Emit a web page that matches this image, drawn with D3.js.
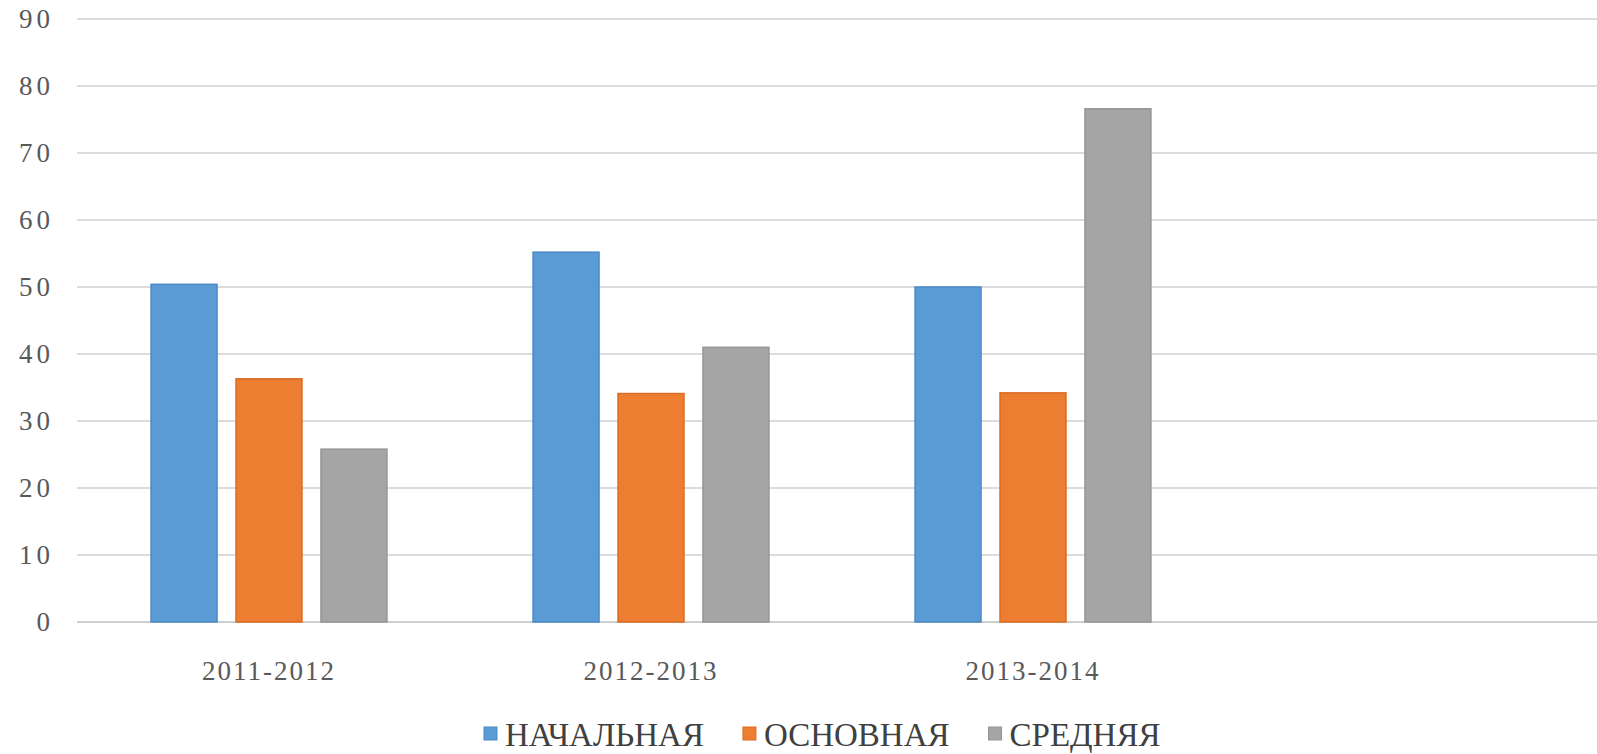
<!DOCTYPE html>
<html>
<head>
<meta charset="utf-8">
<script src="https://cdn.jsdelivr.net/npm/d3@7"></script>
<style>
  body { margin: 0; background: #fff; }
  svg { display: block; }
  text { font-family: "Liberation Serif", "DejaVu Serif", "Times New Roman", serif; }
</style>
</head>
<body>
<div id="chart"></div>
<script>
// data
const years = ['2011-2012', '2012-2013', '2013-2014', ''];
const seriesNames = ['НАЧАЛЬНАЯ', 'ОСНОВНАЯ', 'СРЕДНЯЯ'];
const nachalnaya = [50.4, 55.2, 50.0, null];
const osnovnaya = [36.3, 34.1, 34.2, null];
const srednyaya = [25.8, 41.0, 76.6, null];
const yTicks = [0, 10, 20, 30, 40, 50, 60, 70, 80, 90];
const colors = ['#5B9BD5', '#ED7D31', '#A5A5A5'];
const strokes = ['#4A89C6', '#D96C22', '#959595'];

const width = 1597, height = 754;
const values = [nachalnaya, osnovnaya, srednyaya];

const svg = d3.select('#chart').append('svg')
  .attr('width', width)
  .attr('height', height);

const y = d3.scaleLinear().domain([0, 90]).range([622, 19]);
const x0 = d3.scaleBand().domain(years).range([78, 78 + 4 * 382]);
const x1 = d3.scaleBand().domain(seriesNames)
  .range([0, x0.bandwidth()])
  .paddingInner(0.2235)
  .paddingOuter(0.86);

// gridlines
svg.append('g')
  .selectAll('line')
  .data(yTicks)
  .join('line')
  .attr('x1', 77)
  .attr('x2', width)
  .attr('y1', d => y(d))
  .attr('y2', d => y(d))
  .attr('stroke', d => d === 0 ? '#BFBFBF' : '#D0D0D0')
  .attr('stroke-width', 1.5);

// y labels
svg.append('g')
  .selectAll('text')
  .data(yTicks)
  .join('text')
  .attr('x', 54)
  .attr('y', d => y(d) + 3)
  .attr('text-anchor', 'end')
  .attr('dominant-baseline', 'middle')
  .attr('font-size', 27)
  .attr('letter-spacing', 4)
  .attr('fill', '#595959')
  .text(d => d);

// bars
const groups = svg.append('g')
  .selectAll('g')
  .data(years)
  .join('g')
  .attr('transform', d => 'translate(' + x0(d) + ',0)');

groups.selectAll('rect')
  .data((d, i) => seriesNames.map((s, j) => ({s, j, v: values[j][i]})).filter(e => e.v != null))
  .join('rect')
  .attr('x', d => x1(d.s))
  .attr('y', d => y(d.v))
  .attr('width', x1.bandwidth())
  .attr('height', d => y(0) - y(d.v))
  .attr('fill', d => colors[d.j])
  .attr('stroke', d => strokes[d.j])
  .attr('stroke-width', 1.5);

// x labels
svg.append('g')
  .selectAll('text')
  .data(years.filter(d => d))
  .join('text')
  .attr('x', d => x0(d) + x0.bandwidth() / 2)
  .attr('y', 680)
  .attr('text-anchor', 'middle')
  .attr('font-size', 27)
  .attr('letter-spacing', 2)
  .attr('fill', '#595959')
  .text(d => d);

// legend
const legend = svg.append('g');
let lx = 484;
seriesNames.forEach((name, i) => {
  legend.append('rect')
    .attr('x', lx)
    .attr('y', 727)
    .attr('width', 13)
    .attr('height', 13)
    .attr('fill', colors[i])
    .attr('stroke', strokes[i])
    .attr('stroke-width', 1);
  const t = legend.append('text')
    .attr('x', lx + 21)
    .attr('y', 746)
    .attr('font-size', 33)
    .attr('fill', '#404040')
    .text(name);
  lx += 21 + t.node().getComputedTextLength() + 39;
});
</script>
</body>
</html>
